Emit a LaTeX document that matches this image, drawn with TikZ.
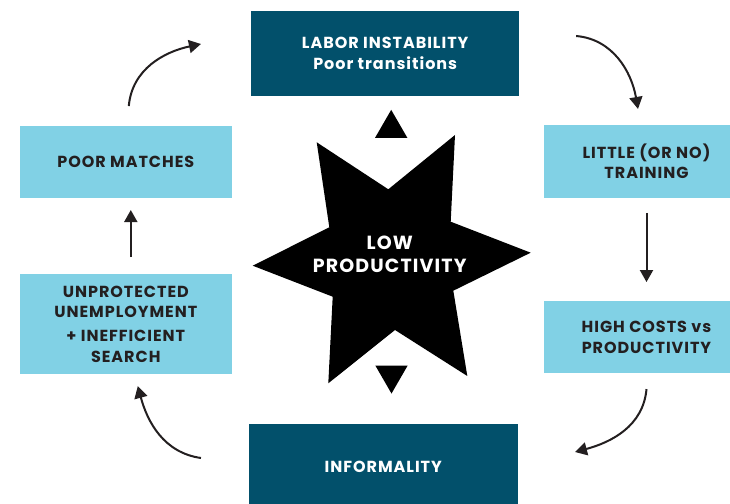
\documentclass[tikz,border=0pt]{standalone}
\usepackage{fontspec}
\setmainfont{Poppins}[LetterSpace=6]
\usepackage{tikz}
\usetikzlibrary{arrows.meta, shapes.geometric}

\definecolor{darkteal}{RGB}{2,80,107}
\definecolor{lightblue}{RGB}{129,209,229}
\definecolor{inkdark}{RGB}{35,31,32}

\begin{document}
\begin{tikzpicture}[
            x = 1pt, y = 1pt, % one unit = one pixel
            > = {Triangle[length=12pt, width=13pt]}, % arrow head style
            line width = 2pt, % line style
            cycle/.style = {->, draw = inkdark}
        ]

        \tikzstyle{darkbox}=[
            fill = darkteal,
            text = white,
            align = center,
            inner sep = 0pt,
            font = \fontsize{16}{20.5}\selectfont\bfseries
        ]
        \tikzstyle{lightbox}=[
            fill = lightblue,
            text = inkdark,
            align = center,
            inner sep = 0pt,
            font = \fontsize{16}{20.5}\selectfont\bfseries
        ]
        \tikzstyle{pointer}=[
            regular polygon,
            regular polygon sides = 3,
            fill = black,
            inner sep = 0pt,
            minimum size = 37.3pt
        ]

        \useasboundingbox (0,0) rectangle (730,503);
        \clip (0,0) rectangle (730,503);

        % boxes round the cycle
        \node[darkbox, minimum width=268.5pt, minimum height=84.7pt] (labor) at (385.2,449.7) {LABOR INSTABILITY\\Poor transitions};
        \node[lightbox, minimum width=205pt, minimum height=72.7pt] (training) at (646.5,341.7) {LITTLE (OR NO)\\TRAINING};
        \node[lightbox, minimum width=205pt, minimum height=72.3pt] (costs) at (646.5,165.8) {HIGH COSTS vs\\PRODUCTIVITY};
        \node[darkbox, minimum width=268.7pt, minimum height=86pt] (informality) at (383.3,36) {INFORMALITY};
        \node[lightbox, minimum width=211.7pt, minimum height=100.3pt] (unprotected) at (125.8,178.8) {UNPROTECTED\\UNEMPLOYMENT\\[3.8pt]+ INEFFICIENT\\SEARCH};
        \node[lightbox, minimum width=211.7pt, minimum height=72.3pt] (matches) at (125.8,340.8) {POOR MATCHES};

        % star in the middle
        \fill[black] (316.7,360.7) -- (388.3,313.7) -- (455,368) -- (450.7,281.3)
            -- (530.7,250.3) -- (453.3,212.3) -- (467.3,127) -- (395,173)
            -- (328.3,119.7) -- (332.7,206.3) -- (252.7,237.3) -- (329.3,275.7) -- cycle;
        \node[text = white, align = center, font = \fontsize{19}{22.7}\selectfont\bfseries] (star) at (389.7,248.5) {LOW\\PRODUCTIVITY};

        \node[pointer] (uptri) at (391.2,374.5) {};
        \node[pointer, shape border rotate=180] (downtri) at (391.5,128.1) {};

        % arrows
        \draw[cycle] ([xshift=3pt, yshift=19pt]matches.north) to[out=85, in=192] ([xshift=-49pt, yshift=9.3pt]labor.west);
        \draw[cycle] ([xshift=55.7pt, yshift=17.3pt]labor.east) to[out=-5, in=100] ([xshift=-8.5pt, yshift=15pt]training.north);
        \draw[cycle] ([yshift=-14.3pt]training.south) -- ([yshift=18pt]costs.north);
        \draw[cycle] ([yshift=-14.7pt]costs.south) to[out=-95, in=15] ([xshift=56.3pt, yshift=15pt]informality.east);
        \draw[cycle] ([xshift=-47pt, yshift=9pt]informality.west) to[out=172, in=-75] ([xshift=12pt, yshift=-10.7pt]unprotected.south);
        \draw[cycle] ([xshift=5pt, yshift=16pt]unprotected.north) -- ([xshift=5pt, yshift=-10.7pt]matches.south);

    \end{tikzpicture}
\end{document}
